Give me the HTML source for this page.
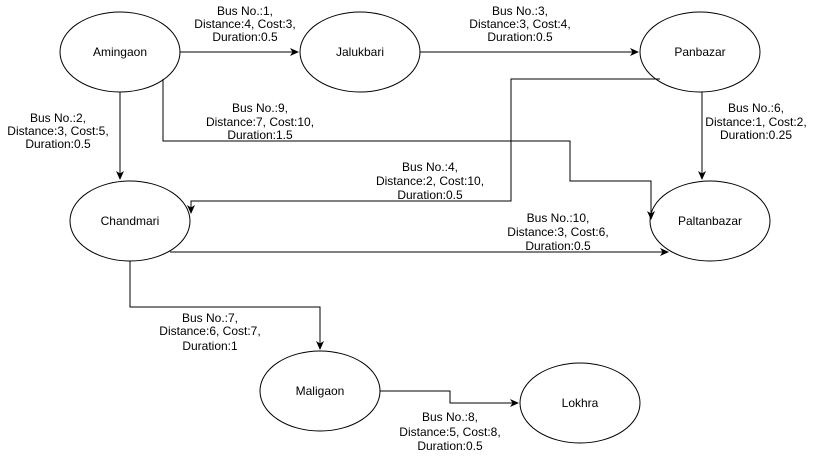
<!DOCTYPE html>
<html><head><meta charset="utf-8"><style>
body{margin:0;background:#fff;}
svg text{font-family:"Liberation Sans",sans-serif;font-size:12px;fill:#000;}
</style></head><body>
<svg width="821" height="452" xmlns="http://www.w3.org/2000/svg">
<defs><marker id="a" markerWidth="10" markerHeight="10" refX="8" refY="4" orient="auto" markerUnits="userSpaceOnUse"><path d="M0,0 L9,4 L0,8 L2.5,4 Z" fill="#000"/></marker></defs>
<g fill="#fff" stroke="#000" stroke-width="1">
<ellipse cx="120" cy="52" rx="60" ry="40"/>
<ellipse cx="360" cy="52" rx="60" ry="40"/>
<ellipse cx="700" cy="52" rx="60" ry="40"/>
<ellipse cx="130" cy="221" rx="60" ry="40"/>
<ellipse cx="710" cy="221" rx="60" ry="40"/>
<ellipse cx="320" cy="391" rx="60" ry="40"/>
<ellipse cx="580" cy="403" rx="60" ry="40"/>
</g>
<g fill="none" stroke="#000" stroke-width="1" marker-end="url(#a)">
<path d="M180,52 H298"/>
<path d="M420,52 H638"/>
<path d="M120,92 V179"/>
<path d="M163,79 V141 H570 V181 H651 V219"/>
<path d="M702,92 V179"/>
<path d="M660,79 H511 V201 H191 V213"/>
<path d="M170,252 H668"/>
<path d="M130,261 V307 H320 V349"/>
<path d="M380,391 H450 V403 H518"/>
</g>
<g text-anchor="middle">
<text x="120" y="56">Amingaon</text>
<text x="360" y="56">Jalukbari</text>
<text x="700" y="56">Panbazar</text>
<text x="130" y="225">Chandmari</text>
<text x="710" y="225">Paltanbazar</text>
<text x="320" y="395">Maligaon</text>
<text x="580" y="407">Lokhra</text>
<text x="245" y="15">Bus No.:1,</text><text x="245" y="28">Distance:4, Cost:3,</text><text x="245" y="41">Duration:0.5</text>
<text x="520" y="15">Bus No.:3,</text><text x="520" y="28">Distance:3, Cost:4,</text><text x="520" y="41">Duration:0.5</text>
<text x="58" y="122">Bus No.:2,</text><text x="58" y="135">Distance:3, Cost:5,</text><text x="58" y="148">Duration:0.5</text>
<text x="260" y="112">Bus No.:9,</text><text x="260" y="126">Distance:7, Cost:10,</text><text x="260" y="139">Duration:1.5</text>
<text x="756" y="112">Bus No.:6,</text><text x="756" y="126">Distance:1, Cost:2,</text><text x="756" y="139">Duration:0.25</text>
<text x="430" y="171">Bus No.:4,</text><text x="430" y="185">Distance:2, Cost:10,</text><text x="430" y="199">Duration:0.5</text>
<text x="558" y="222">Bus No.:10,</text><text x="558" y="236">Distance:3, Cost:6,</text><text x="558" y="250">Duration:0.5</text>
<text x="210" y="322">Bus No.:7,</text><text x="210" y="335">Distance:6, Cost:7,</text><text x="210" y="350">Duration:1</text>
<text x="450" y="421">Bus No.:8,</text><text x="450" y="436">Distance:5, Cost:8,</text><text x="450" y="450">Duration:0.5</text>
</g>
</svg>
</body></html>
